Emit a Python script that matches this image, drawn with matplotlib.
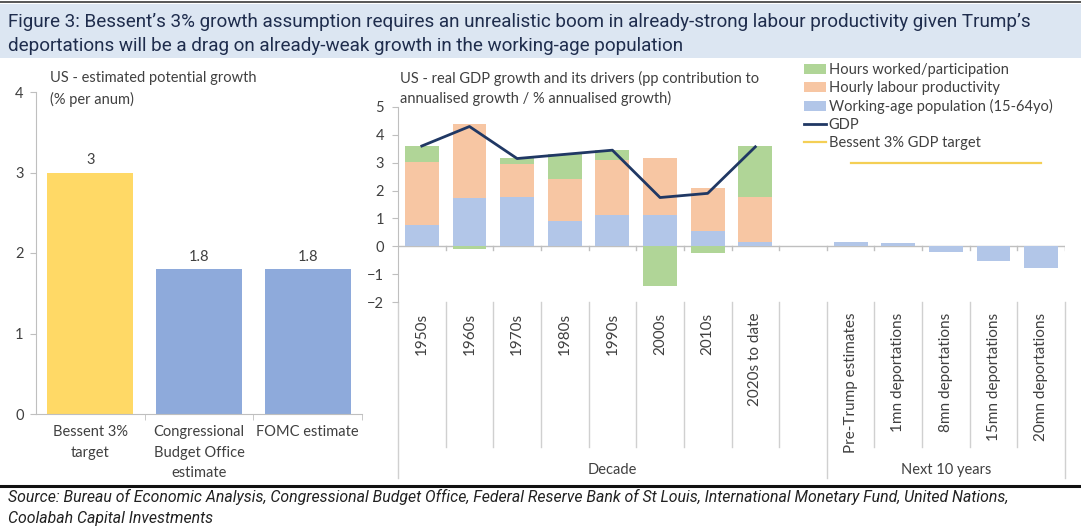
import numpy as np
import matplotlib
matplotlib.use("Agg")
import matplotlib.pyplot as plt
import matplotlib.transforms as mtransforms
from matplotlib.lines import Line2D
from matplotlib.patches import Patch, Rectangle

# US - estimated potential growth (% per annum)
potential_labels = ["Bessent 3%\ntarget", "Congressional\nBudget Office\nestimate", "FOMC estimate"]
potential_values = [3.0, 1.8, 1.8]

# US - real GDP growth and its drivers
decade_labels = ["1950s", "1960s", "1970s", "1980s", "1990s", "2000s", "2010s", "2020s to date", ""]
outlook_labels = ["Pre-Trump estimates", "1mn deportations", "8mn deportations",
                  "15mn deportations", "20mn deportations"]
working_age = [0.78, 1.74, 1.77, 0.90, 1.12, 1.12, 0.56, 0.14, 0.0,
               0.14, 0.11, -0.22, -0.54, -0.78]
productivity = [2.25, 2.65, 1.20, 1.50, 1.97, 2.06, 1.54, 1.64, 0.0,
                0.0, 0.0, 0.0, 0.0, 0.0]
hours_worked = [0.57, -0.08, 0.21, 0.90, 0.36, -1.44, -0.24, 1.82, 0.0,
                0.0, 0.0, 0.0, 0.0, 0.0]
gdp_growth = [3.60, 4.30, 3.15, 3.30, 3.45, 1.75, 1.90, 3.57, np.nan,
              np.nan, np.nan, np.nan, np.nan, np.nan]
bessent_target = [np.nan] * 9 + [3.0] * 5

YELLOW = "#ffd966"
MID_BLUE = "#8eaadb"
GREEN = "#b0d597"
PEACH = "#f7c6a3"
LIGHT_BLUE = "#b2c6e8"
NAVY = "#203864"
TARGET = "#f4cf55"
TEXT = "#404040"
AXIS = "#bfbfbf"

W, H = 1081, 527
FS = 10.5
plt.rcParams["font.family"] = ["Lato", "DejaVu Sans"]
plt.rcParams["font.size"] = FS


def fx(px):
    return px / W


def fy(py):
    return 1 - py / H


fig = plt.figure(figsize=(W / 100, H / 100), dpi=100, facecolor="white")

# header band and rules
fig.patches.append(Rectangle((0, fy(58)), 1, fy(4) - fy(58), transform=fig.transFigure,
                             facecolor="#dce6f2", edgecolor="none", zorder=0))
fig.add_artist(Line2D([0, 1], [fy(2), fy(2)], color="#3a3a3a", lw=1.2))
fig.add_artist(Line2D([0, 1], [fy(486), fy(486)], color="#111111", lw=2.2))
fig.text(fx(8), fy(22), "Figure 3: Bessent\u2019s 3% growth assumption requires an unrealistic boom in "
         "already-strong labour productivity given Trump\u2019s", family="Roboto", fontsize=13.6,
         color="#1f2d4d", va="center", ha="left")
fig.text(fx(8), fy(46), "deportations will be a drag on already-weak growth in the working-age population",
         family="Roboto", fontsize=13.6, color="#1f2d4d", va="center", ha="left")
fig.text(fx(8), fy(497), "Source: Bureau of Economic Analysis, Congressional Budget Office, Federal Reserve "
         "Bank of St Louis, International Monetary Fund, United Nations,", family="Roboto",
         style="italic", fontsize=11.4, color="#222222", va="center")
fig.text(fx(8), fy(518), "Coolabah Capital Investments", family="Roboto", style="italic",
         fontsize=11.4, color="#222222", va="center")

# ---- left panel: potential growth estimates ----
ax1 = fig.add_axes([fx(36), fy(414), fx(362) - fx(36), fy(92) - fy(414)])
x1 = np.arange(len(potential_values))
bars = ax1.bar(x1, potential_values, width=0.79, color=[YELLOW, MID_BLUE, MID_BLUE], zorder=2)
ax1.bar_label(bars, labels=[f"{v:g}" for v in potential_values], padding=4, color=TEXT, fontsize=FS)
ax1.set_xlim(-0.5, 2.5)
ax1.set_ylim(0, 4)
ax1.set_yticks([0, 1, 2, 3, 4])
ax1.set_xticks(x1)
ax1.set_xticklabels(potential_labels, color=TEXT, fontsize=FS, linespacing=1.6)
ax1.set_xticks([0.5, 1.5, 2.5], minor=True)
ax1.tick_params(axis="x", which="major", length=0, pad=8)
ax1.tick_params(axis="x", which="minor", length=4, color=AXIS)
ax1.tick_params(axis="y", length=4, color=AXIS, labelcolor=TEXT, labelsize=FS, pad=5)
for side in ("top", "right"):
    ax1.spines[side].set_visible(False)
for side in ("left", "bottom"):
    ax1.spines[side].set_color(AXIS)
fig.text(fx(50), fy(78), "US - estimated potential growth", color=TEXT, fontsize=FS, va="center")
fig.text(fx(50), fy(99), "(% per anum)", color=TEXT, fontsize=FS, va="center")

# ---- right panel: GDP growth decomposition ----
ax2 = fig.add_axes([fx(398), fy(302), fx(1065) - fx(398), fy(107) - fy(302)])
x2 = np.arange(len(working_age))
pos_base = np.zeros(len(x2))
neg_base = np.zeros(len(x2))
for values, color in ((working_age, LIGHT_BLUE), (productivity, PEACH), (hours_worked, GREEN)):
    v = np.asarray(values, dtype=float)
    bottom = np.where(v >= 0, pos_base, neg_base)
    ax2.bar(x2, v, bottom=bottom, width=0.71, color=color, zorder=2)
    pos_base += np.clip(v, 0, None)
    neg_base += np.clip(v, None, 0)
ax2.plot(x2, gdp_growth, color=NAVY, lw=2.0, zorder=3)
ax2.plot(x2, bessent_target, color=TARGET, lw=1.6, zorder=3)
ax2.axhline(0, color=AXIS, lw=1, zorder=1)

ax2.set_xlim(-0.5, 13.5)
ax2.set_ylim(-2, 5)
ax2.set_yticks(range(-2, 6))
ax2.set_xticks([])
ax2.tick_params(axis="y", length=4, color=AXIS, labelcolor=TEXT, labelsize=FS, pad=6)
for side in ("top", "right", "bottom"):
    ax2.spines[side].set_visible(False)
ax2.spines["left"].set_color(AXIS)

# category tick marks on the zero line
tick_len = 0.14
for b in np.arange(0.5, 14.0, 1.0):
    ax2.plot([b, b], [0, -tick_len], color=AXIS, lw=1, zorder=1)

# two-level category axis below the plot area
blend = mtransforms.blended_transform_factory(ax2.transData, ax2.transAxes)
all_labels = decade_labels + outlook_labels
for i, lab in enumerate(all_labels):
    if lab:
        ax2.text(i, -0.055, lab, transform=blend, rotation=90, ha="center", va="top",
                 color=TEXT, fontsize=11)
for b in np.arange(0.5, 13.5, 1.0):
    if b != 8.5:
        ax2.plot([b, b], [0, -0.744], transform=blend, color="#d0d0d0", lw=1, clip_on=False)
for b in (-0.5, 8.5, 13.5):
    ax2.plot([b, b], [0, -0.905], transform=blend, color="#d0d0d0", lw=1, clip_on=False)
ax2.text(4, -0.862, "Decade", transform=blend, ha="center", va="center", color=TEXT, fontsize=FS)
ax2.text(11, -0.862, "Next 10 years", transform=blend, ha="center", va="center", color=TEXT, fontsize=FS)

fig.text(fx(400), fy(78), "US - real GDP growth and its drivers (pp contribution to",
         color=TEXT, fontsize=FS, va="center")
fig.text(fx(400), fy(98), "annualised growth / % annualised growth)", color=TEXT, fontsize=FS, va="center")

handles = [
    Patch(facecolor=GREEN, edgecolor="none", label="Hours worked/participation"),
    Patch(facecolor=PEACH, edgecolor="none", label="Hourly labour productivity"),
    Patch(facecolor=LIGHT_BLUE, edgecolor="none", label="Working-age population (15-64yo)"),
    Line2D([], [], color=NAVY, lw=2.0, label="GDP"),
    Line2D([], [], color=TARGET, lw=1.6, label="Bessent 3% GDP target"),
]
leg = fig.legend(handles=handles, loc="upper left", bbox_to_anchor=(fx(804), fy(63)),
                 frameon=False, fontsize=FS, borderpad=0, borderaxespad=0,
                 handlelength=1.5, handleheight=0.75, handletextpad=0.2, labelspacing=0.27)
for t in leg.get_texts():
    t.set_color(TEXT)

fig.savefig("out.png", dpi=100)
